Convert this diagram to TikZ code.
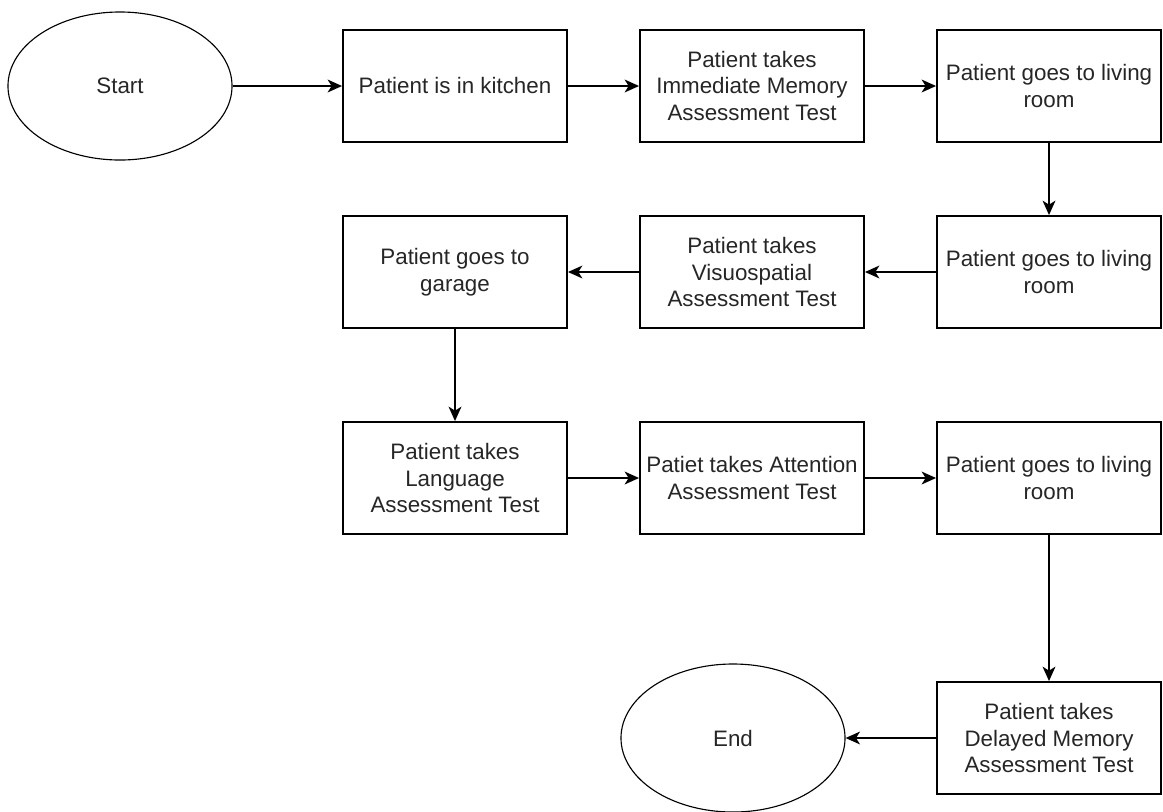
\documentclass[tikz,border=0pt]{standalone}
\usepackage{fontspec}
\setmainfont{Liberation Sans}
\usepackage{tikz}
\usetikzlibrary{shapes.geometric,arrows.meta}

\tikzset{
  box/.style={draw,line width=1.3pt,rectangle,minimum width=5.6cm,minimum height=2.8cm,inner sep=0pt,align=center},
  term/.style={draw,line width=0.8pt,ellipse,minimum width=5.6cm,minimum height=3.7cm,inner sep=0pt},
  flow/.style={line width=1.2pt,-{Stealth[length=3.6mm,width=3.2mm,inset=1mm]}}
}

\begin{document}
\begin{tikzpicture}
  [x=0.025cm,y=-0.025cm,every node/.style={font=\fontsize{15.9}{18.9}\selectfont,text=black!85}]
  \useasboundingbox (0,0) rectangle (1163,811);
  \node[term] (start) at (120,86) {Start};
  \node[box] (n1) at (455,86) {Patient is in kitchen};
  \node[box] (n2) at (752,86) {Patient takes\\Immediate Memory\\Assessment Test};
  \node[box] (n3) at (1049,86) {Patient goes to living\\room};
  \node[box] (n4) at (1049,272) {Patient goes to living\\room};
  \node[box] (n5) at (752,272) {Patient takes\\Visuospatial\\Assessment Test};
  \node[box] (n6) at (455,272) {Patient goes to\\garage};
  \node[box] (n7) at (455,478) {Patient takes\\Language\\Assessment Test};
  \node[box] (n8) at (752,478) {Patiet takes Attention\\Assessment Test};
  \node[box] (n9) at (1049,478) {Patient goes to living\\room};
  \node[box] (n10) at (1049,738) {Patient takes\\Delayed Memory\\Assessment Test};
  \node[term] (end) at (733,738) {End};
  \foreach \from/\to in {start/n1,n1/n2,n2/n3,n3/n4,n4/n5,n5/n6,n6/n7,n7/n8,n8/n9,n9/n10,n10/end}
    \draw[flow] (\from) -- (\to);
\end{tikzpicture}
\end{document}
